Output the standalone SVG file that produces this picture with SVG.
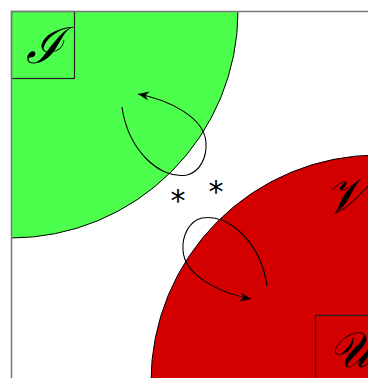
<svg xmlns="http://www.w3.org/2000/svg" width="368" height="378" viewBox="0 0 368 378">
<style>
.lbl{font-family:"DejaVu Serif","Liberation Serif",serif;font-style:italic;fill:#000;text-anchor:middle}
.box{fill:none;stroke:#222;stroke-width:1.2}
.conn{fill:none;stroke:#000;stroke-width:1.1}
.ast{font-family:"DejaVu Sans","Liberation Sans",sans-serif;font-size:30px;fill:#000;text-anchor:middle}
</style>
<defs>
<marker id="ah" markerUnits="userSpaceOnUse" markerWidth="14" markerHeight="12" viewBox="-12 -6 14 12" refX="0" refY="0" orient="auto">
<path d="M0,0 L-11,-4.5 L-7.5,0 L-11,4.5 Z" fill="#000"/>
</marker>
</defs>
<rect width="368" height="378" fill="#fff"/>
<g id="I">
<path d="M11,11 L238,11 A227,227 0 0 1 11,238 Z" fill="#4dff4d" stroke="none"/>
<path d="M238,11 A227,227 0 0 1 11,238" fill="none" stroke="#000" stroke-width="1"/>
<rect class="box" x="11.5" y="11.5" width="63" height="67"/>
<text class="lbl" x="44" y="63" font-size="50">ℐ</text>
</g>
<g id="V">
<circle cx="378" cy="382" r="227" fill="#d40000" stroke="#000" stroke-width="1"/>
<text class="lbl" x="345" y="213" font-size="50">𝒱</text>
</g>
<g id="U">
<rect class="box" x="315.5" y="315.5" width="63" height="67"/>
<text class="lbl" x="350" y="367" font-size="50">𝒰</text>
</g>
<path d="M11.5,378 L11.5,11.5 L368,11.5" fill="none" stroke="#777" stroke-width="1.5"/>
<g id="connectors">
<path class="conn" d="M122,107 C128,150 160,180 187,175 C200,172 207,157 206,143 C205,118 170,100 138,94" marker-end="url(#ah)"/>
<path class="conn" d="M267,286 C261,243 229,213 202,218 C189,221 182,236 183,250 C184,275 219,293 251,299" marker-end="url(#ah)"/>
</g>
<text class="ast" x="178" y="211">*</text>
<text class="ast" x="216" y="202">*</text>
</svg>
